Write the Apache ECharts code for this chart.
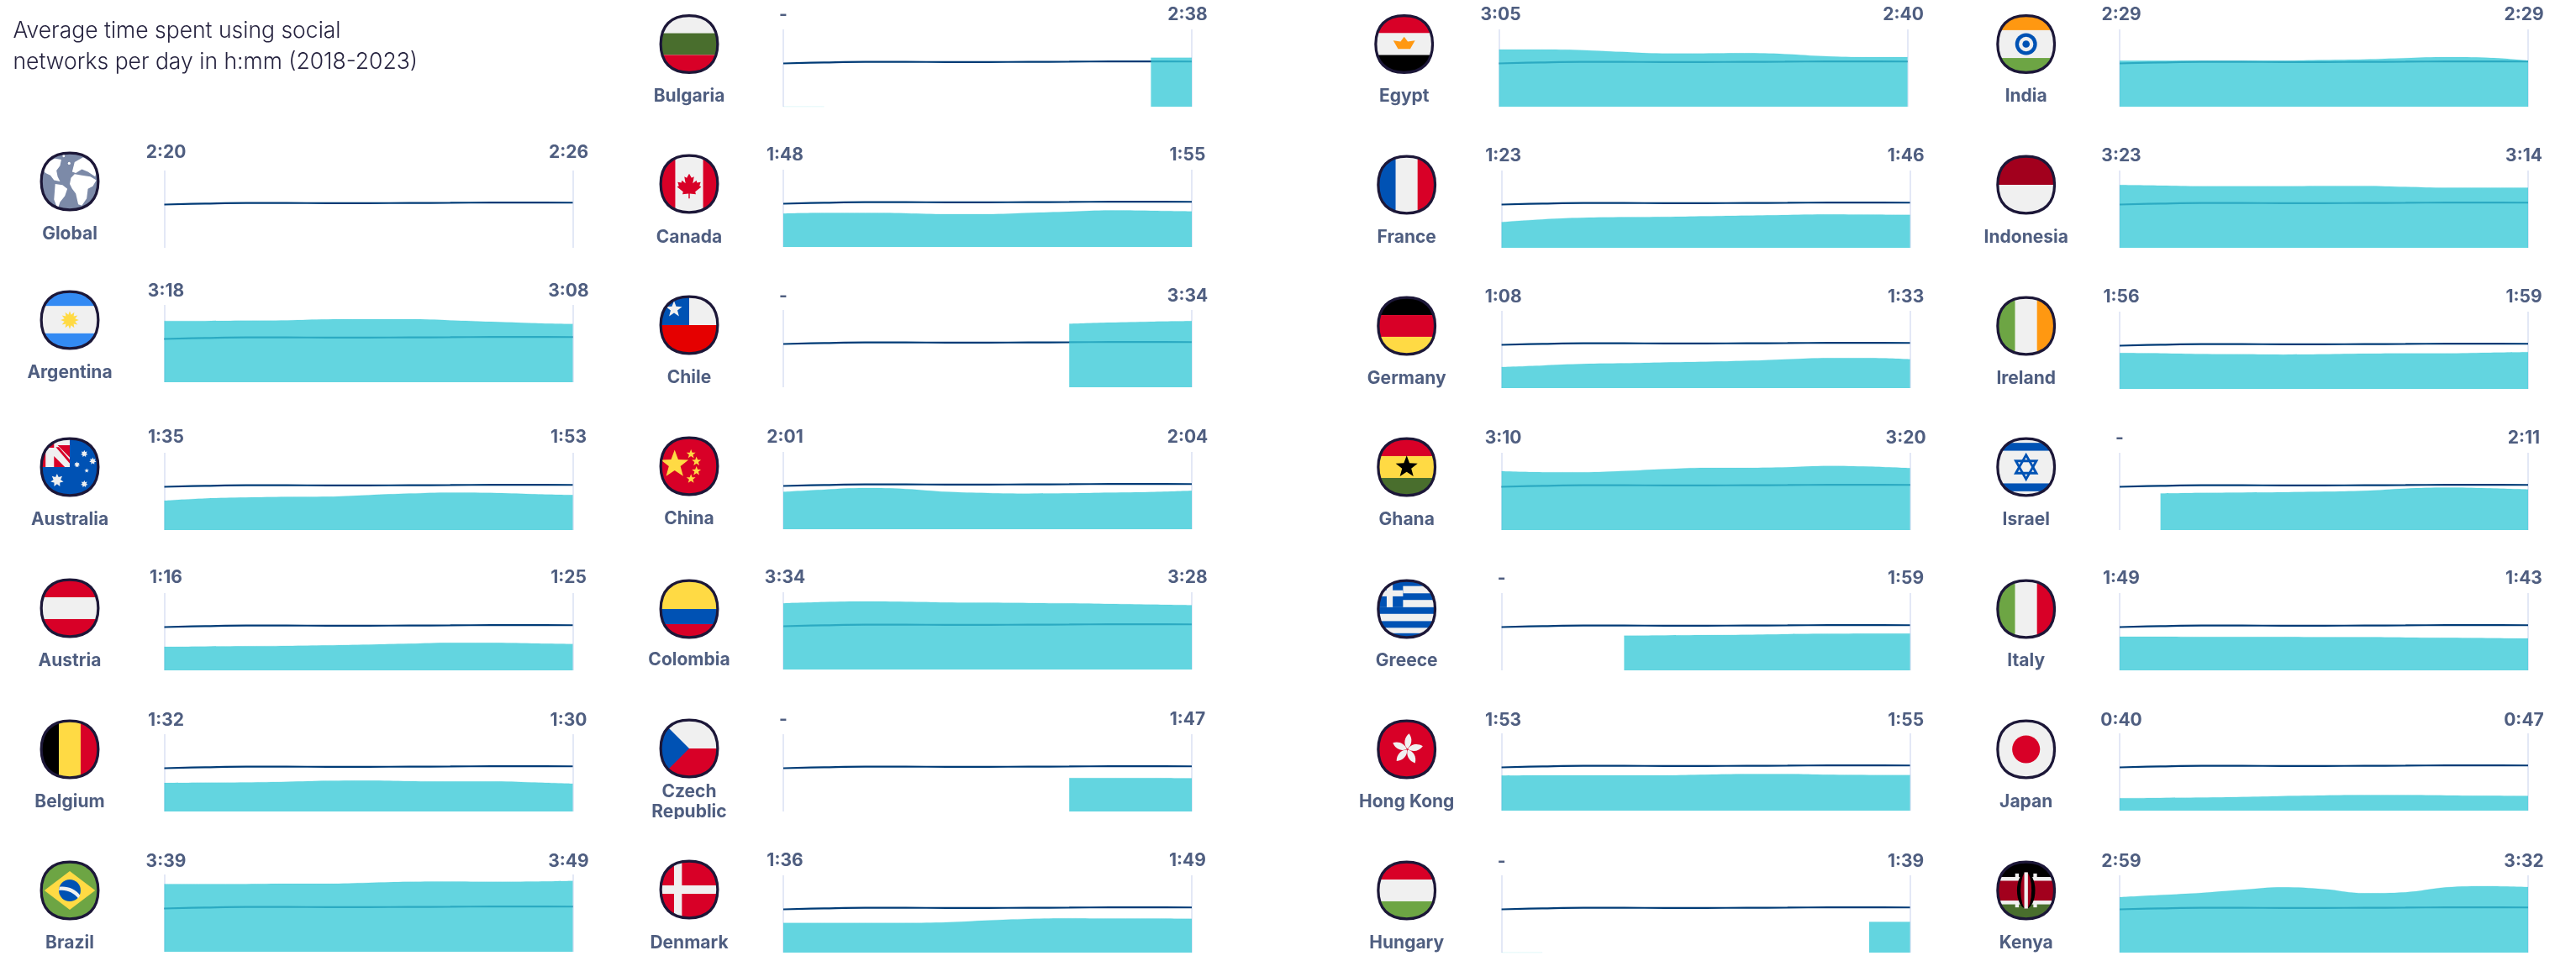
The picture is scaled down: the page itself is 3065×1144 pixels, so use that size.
<!DOCTYPE html>
<html lang="en">
    <head>
        <meta charset="UTF-8" />
        <title>Average time spent using social networks</title>
        <script src="https://cdn.jsdelivr.net/npm/echarts@6/dist/echarts.min.js"></script>
    </head>
    <style>
        html, body { margin: 0; background: #fff; }
        #chart { width: 3065px; height: 1144px; }
    </style>
    <body>
        <div id="chart"></div>
    </body>
    <script>
        // half-year steps, values in minutes per day
        const periods = ["2018", "2018.5", "2019", "2019.5", "2020", "2020.5", "2021", "2021.5", "2022", "2022.5", "2023"];

        const names = [
            ["Global", "Argentina", "Australia", "Austria", "Belgium", "Brazil"],
            ["Bulgaria", "Canada", "Chile", "China", "Colombia", "Czech\nRepublic", "Denmark"],
            ["Egypt", "France", "Germany", "Ghana", "Greece", "Hong Kong", "Hungary"],
            ["India", "Indonesia", "Ireland", "Israel", "Italy", "Japan", "Kenya"],
        ];
        const startLabels = [
            ["2:20", "3:18", "1:35", "1:16", "1:32", "3:39"],
            ["-", "1:48", "-", "2:01", "3:34", "-", "1:36"],
            ["3:05", "1:23", "1:08", "3:10", "-", "1:53", "-"],
            ["2:29", "3:23", "1:56", "-", "1:49", "0:40", "2:59"],
        ];
        const endLabels = [
            ["2:26", "3:08", "1:53", "1:25", "1:30", "3:49"],
            ["2:38", "1:55", "3:34", "2:04", "3:28", "1:47", "1:49"],
            ["2:40", "1:46", "1:33", "3:20", "1:59", "1:55", "1:39"],
            ["2:29", "3:14", "1:59", "2:11", "1:43", "0:47", "3:32"],
        ];

        const globalLine = [140, 143, 145, 145, 144.5, 144.5, 145, 145.5, 146.5, 146.5, 146];
        const argentina = [198, 198, 199, 200, 203, 203.5, 203.5, 200, 195.5, 191, 188];
        const australia = [95, 102, 105, 107, 108, 113, 118, 121, 120, 116, 113];
        const austria = [76, 77, 78, 79, 81, 83, 86, 89, 89, 87, 85];
        const belgium = [92, 93, 94, 96, 99, 100, 98, 97, 97, 94, 90];
        const brazil = [219, 219, 219, 220, 220, 223, 226, 227, 226, 227, 229];
        const bulgaria = [0, 0, null, null, null, null, null, null, null, 158, 158];
        const canada = [108, 110, 110, 109, 106, 106, 110, 114, 118, 117, 115];
        const chile = [null, null, null, null, null, null, null, 205, 209, 212, 214];
        const china = [121, 128, 133, 130, 121, 117, 115, 116, 118, 120, 124];
        const colombia = [214, 218, 220, 219, 217, 216, 215, 214, 212, 210, 208];
        const czechRepublic = [null, null, null, null, null, null, null, 108, 108, 108, 107];
        const denmark = [96, 96, 96, 96, 98, 104, 109, 111, 110, 110, 109];
        const egypt = [185, 185, 183, 177, 172, 172, 173, 170, 163, 160, 160];
        const france = [83, 92, 97, 99, 100, 102, 104, 106, 108, 107, 106];
        const germany = [68, 73, 78, 80, 83, 85, 88, 93, 97, 97, 93];
        const ghana = [190, 187, 187, 191, 197, 201, 201, 203, 207, 205, 200];
        const greece = [null, null, null, 112, 113, 114, 115, 117, 118, 119, 119];
        const hongKong = [113, 114, 114, 114, 114, 116, 118, 118, 116, 115, 115];
        const hungary = [0, 0, null, null, null, null, null, null, null, 99, 99];
        const india = [149, 149, 149, 149, 149, 151, 153, 157, 160, 158, 149];
        const indonesia = [203, 201, 199, 199, 199, 200, 200, 197, 194, 194, 194];
        const ireland = [116, 115, 113, 112, 111, 112, 114, 115, 115, 117, 119];
        const israel = [null, 118, 120, 121, 122, 124, 127, 134, 137, 135, 131];
        const italy = [109, 109, 108, 108, 108, 107, 107, 106, 105, 104, 103];
        const japan = [40, 41, 42, 44, 47, 49, 50, 50, 49, 48, 47];
        const kenya = [179, 186, 193, 203, 211, 205, 192, 195, 211, 215, 212];

        const areaValues = [
            [null, argentina, australia, austria, belgium, brazil],
            [bulgaria, canada, chile, china, colombia, czechRepublic, denmark],
            [egypt, france, germany, ghana, greece, hongKong, hungary],
            [india, indonesia, ireland, israel, italy, japan, kenya],
        ];

        // layout
        const colX = [195.5, 932, 1786.6, 2522];
        const flagX = [83, 820, 1673.7, 2410.7];
        const panelW = 486;
        const panelH = 92;
        const panelTop = [
            [203, 363, 539, 706, 874, 1041],
            [35, 202, 369, 538, 705, 874, 1042],
            [35, 203, 370, 539, 706, 873, 1042],
            [35, 203, 371, 539, 706, 873, 1042],
        ];
        const flagY = [
            [216, 381, 556, 724, 892, 1060],
            [52.5, 219, 387, 555, 725, 891, 1059],
            [52.5, 220, 388, 556, 725, 892, 1060],
            [52.5, 220, 388, 556, 725, 892, 1060],
        ];
        const nameY = [
            [279, 444, 619, 787, 955, 1123],
            [115, 283, 450, 618, 786, 955, 1123],
            [115, 283, 451, 619, 787, 955, 1123],
            [115, 283, 451, 619, 787, 955, 1123],
        ];
        const valueY = [
            [182, 347, 521, 688, 858, 1026],
            [18, 185, 353, 521, 688, 857, 1025],
            [18, 186, 354, 522, 689, 858, 1026],
            [18, 186, 354, 522, 689, 858, 1026],
        ];
        const FONT = "Inter, 'Noto Sans', sans-serif";
        const TEXT = "#4f5e80";

        // flag drawing
        const RED = "#d80027", WHITE = "#f0f0f0", BLUE = "#0052b4", YEL = "#ffda44",
            GRN = "#6da544", DGRN = "#496e2d", ORG = "#ff9811", BLK = "#000", DRED = "#a2001d";
        const rect = (x, y, w, h, c) => `<rect x="${x}" y="${y}" width="${w}" height="${h}" fill="${c}"/>`;
        const circ = (x, y, r, c) => `<circle cx="${x}" cy="${y}" r="${r}" fill="${c}"/>`;
        const hb = (a, b, c, y1 = 32, y2 = 68) => rect(0, 0, 100, y1, a) + rect(0, y1, 100, y2 - y1, b) + rect(0, y2, 100, 100 - y2, c);
        const vb = (a, b, c) => rect(0, 0, 32, 100, a) + rect(32, 0, 36, 100, b) + rect(68, 0, 32, 100, c);
        function star(cx, cy, r, c, n = 5, inner = 0.42) {
            let pts = [];
            for (let i = 0; i < n * 2; i++) {
                const a = -Math.PI / 2 + (i * Math.PI) / n;
                const rr = i % 2 ? r * inner : r;
                pts.push((cx + rr * Math.cos(a)).toFixed(1) + "," + (cy + rr * Math.sin(a)).toFixed(1));
            }
            return `<polygon points="${pts.join(" ")}" fill="${c}"/>`;
        }
        const petal = (deg) => `<path transform="rotate(${deg} 51 50)" d="M51 49C44 42 46 30 54 24C60 32 59 43 51 49Z" fill="${WHITE}"/>`;
        const flags = {
            Global: rect(0, 0, 100, 100, "#7c8aa8") +
                `<path d="M4 30L14 16L26 12L36 14L34 24L28 32L30 42L34 50L24 48L18 40L10 36Z M26 54L38 56L46 62L42 74L34 84L30 96L24 80Z M52 44L58 38L70 40L84 42L94 48L88 58L80 62L78 78L70 90L64 88L60 70L54 62L50 54Z M54 34L58 18L72 10L88 18L96 30L92 42L80 34L70 30L60 36Z" fill="#fff"/>` +
                circ(49, 20, 2.2, "#fff") + circ(40, 8, 2, "#fff"),
            Argentina: hb("#338af3", WHITE, "#338af3", 27, 72) + star(50, 50, 15, YEL, 12, 0.6),
            Australia: rect(0, 0, 100, 100, BLUE) + rect(4, 4, 46, 46, RED) +
                `<polygon points="24,4 50,4 50,14 30,14 50,34 50,50 42,50 24,32 24,50 10,50 10,18 24,18" fill="${WHITE}"/>` +
                `<polygon points="27,17 32,17 50,38 50,44" fill="${RED}"/>` +
                star(29, 72, 11, WHITE, 7, 0.55) + star(74, 28, 6, WHITE, 7, 0.55) + star(88, 40, 6, WHITE, 7, 0.55) +
                star(62, 46, 5, WHITE, 7, 0.55) + star(78, 56, 4, WHITE, 5) + star(74, 78, 6, WHITE, 7, 0.55),
            Austria: hb(RED, WHITE, RED),
            Belgium: vb(BLK, YEL, RED),
            Brazil: rect(0, 0, 100, 100, GRN) + `<polygon points="50,18 92,50 50,82 8,50" fill="${YEL}"/>` + circ(50, 50, 18, BLUE) +
                `<path d="M33 44C46 42 60 48 67 58L64 63C56 53 44 48 32 50Z" fill="${WHITE}"/>`,
            Bulgaria: hb(WHITE, DGRN, RED),
            Canada: rect(0, 0, 100, 100, RED) + rect(27, 0, 46, 100, WHITE) +
                `<path d="M50 33l4 7 4-2-2 11 6-5 1 4 6-1-2 6 3 2-10 8 1 4-10-1v8h-2v-8l-10 1 1-4-10-8 3-2-2-6 6 1 1-4 6 5-2-11 4 2z" fill="${RED}"/>`,
            Chile: rect(0, 0, 100, 50, WHITE) + rect(0, 0, 50, 50, BLUE) + rect(0, 50, 100, 50, "#e50000") + star(25, 24, 14, WHITE),
            China: rect(0, 0, 100, 100, RED) + star(26, 47, 24, YEL) + star(53, 30, 8, YEL) + star(62, 42, 8, YEL) +
                star(62, 58, 8, YEL) + star(53, 71, 8, YEL),
            Colombia: rect(0, 0, 100, 50, YEL) + rect(0, 50, 100, 25, BLUE) + rect(0, 75, 100, 25, RED),
            Czech: rect(0, 0, 100, 50, WHITE) + rect(0, 50, 100, 50, RED) + `<polygon points="0,0 50,50 0,100" fill="${BLUE}"/>`,
            Denmark: rect(0, 0, 100, 100, RED) + rect(25, 0, 13, 100, WHITE) + rect(0, 43, 100, 14, WHITE),
            Egypt: hb(RED, WHITE, BLK) + `<polygon points="32,44 44,46 50,38 56,46 68,44 60,58 40,58" fill="${ORG}"/>`,
            France: vb(BLUE, WHITE, RED),
            Germany: hb(BLK, RED, YEL),
            Ghana: hb(RED, YEL, DGRN) + star(50, 50, 19, BLK),
            Greece: rect(0, 0, 100, 100, WHITE) + rect(0, 0, 100, 12, BLUE) + rect(0, 24, 100, 11, BLUE) + rect(0, 47, 100, 11, BLUE) +
                rect(0, 70, 100, 11, BLUE) + rect(0, 90, 100, 10, BLUE) + rect(0, 0, 44, 47, BLUE) + rect(17, 0, 10, 47, WHITE) + rect(0, 19, 44, 10, WHITE),
            Hong: rect(0, 0, 100, 100, RED) + [0, 72, 144, 216, 288].map(petal).join(""),
            Hungary: hb(RED, WHITE, GRN),
            India: hb(ORG, WHITE, GRN, 27, 73) + circ(50, 50, 18, BLUE) + circ(50, 50, 12, WHITE) + circ(50, 50, 6, BLUE),
            Indonesia: rect(0, 0, 100, 50, DRED) + rect(0, 50, 100, 50, WHITE),
            Ireland: vb(GRN, WHITE, ORG),
            Israel: rect(0, 0, 100, 100, WHITE) + rect(0, 10, 100, 13, BLUE) + rect(0, 77, 100, 13, BLUE) +
                `<g fill="none" stroke="${BLUE}" stroke-width="4"><polygon points="50,30 67,60 33,60"/><polygon points="50,70 67,40 33,40"/></g>`,
            Italy: vb(GRN, WHITE, RED),
            Japan: rect(0, 0, 100, 100, WHITE) + circ(50, 50, 23, RED),
            Kenya: rect(0, 0, 100, 28, BLK) + rect(0, 28, 100, 6, WHITE) + rect(0, 34, 100, 33, DRED) + rect(0, 67, 100, 6, WHITE) +
                rect(0, 73, 100, 27, DGRN) + `<ellipse cx="50" cy="50" rx="15" ry="30" fill="${BLK}"/><ellipse cx="50" cy="50" rx="9" ry="30" fill="${DRED}"/>` +
                rect(47, 20, 6, 60, WHITE) + rect(32, 22, 6, 10, WHITE) + rect(62, 22, 6, 10, WHITE) + rect(32, 68, 6, 10, WHITE) + rect(62, 68, 6, 10, WHITE),
        };
        const SHAPE = "M50 3C80 3 97 20 97 50C97 80 80 97 50 97C20 97 3 80 3 50C3 20 20 3 50 3Z";
        function flagImage(key) {
            const svg = `<svg xmlns="http://www.w3.org/2000/svg" width="140" height="140" viewBox="0 0 100 100"><clipPath id="c"><path d="${SHAPE}"/></clipPath><g clip-path="url(#c)">${flags[key]}</g><path d="${SHAPE}" fill="none" stroke="#1c1738" stroke-width="4.5"/></svg>`;
            return "data:image/svg+xml;charset=utf-8," + encodeURIComponent(svg);
        }

        const label = (text, x, y, opts) => ({
            type: "text",
            silent: true,
            style: Object.assign({ text, x, y, fill: TEXT, fontFamily: FONT, fontSize: 21, fontWeight: 700, align: "center", verticalAlign: "middle" }, opts),
        });

        const grid = [], xAxis = [], yAxis = [], series = [];
        const graphic = [
            label("Average time spent using social", 15.5, 37, { fill: "#26233f", fontSize: 26.5, fontWeight: 300, align: "left" }),
            label("networks per day in h:mm (2018-2023)", 15.5, 74, { fill: "#26233f", fontSize: 26.5, fontWeight: 300, align: "left" }),
        ];

        names.forEach((col, c) => {
            col.forEach((name, r) => {
                const idx = grid.length;
                // Egypt sits a little left of the rest of its column
                const dx = name === "Egypt" ? -3 : 0;
                const left = colX[c] + dx;
                grid.push({ left, top: panelTop[c][r], width: panelW, height: panelH });
                xAxis.push({
                    type: "category",
                    gridIndex: idx,
                    data: periods,
                    boundaryGap: false,
                    axisLine: { show: false },
                    axisTick: { show: false },
                    axisLabel: { show: false },
                    splitLine: {
                        show: true,
                        interval: (i) => i === 0 || i === periods.length - 1,
                        lineStyle: { color: "#e3e8f6", width: 2 },
                    },
                });
                yAxis.push({ type: "value", gridIndex: idx, min: 0, max: 250, show: false });
                series.push({
                    type: "line",
                    xAxisIndex: idx,
                    yAxisIndex: idx,
                    data: globalLine,
                    smooth: 0.4,
                    showSymbol: false,
                    z: 2,
                    lineStyle: { color: "#003b76", width: 2.2 },
                });
                if (areaValues[c][r]) {
                    series.push({
                        type: "line",
                        xAxisIndex: idx,
                        yAxisIndex: idx,
                        data: areaValues[c][r],
                        smooth: 0.4,
                        showSymbol: false,
                        z: 3,
                        lineStyle: { color: "rgba(55,201,215,0.2)", width: 1 },
                        areaStyle: { color: "rgba(55,201,215,0.78)", opacity: 1 },
                    });
                }
                const key = name.split(/[\s\n]/)[0];
                graphic.push({
                    type: "image",
                    silent: true,
                    style: { image: flagImage(key), x: flagX[c] + dx - 36, y: flagY[c][r] - 36, width: 72, height: 72 },
                });
                graphic.push(label(name, flagX[c] + dx, nameY[c][r], key === "Czech" ? { lineHeight: 24 } : {}));
                graphic.push(label(startLabels[c][r], left + (startLabels[c][r] === "-" ? 0 : 2), valueY[c][r]));
                graphic.push(label(endLabels[c][r], left + panelW - 5, valueY[c][r]));
            });
        });
        // the Czech Republic label is cut off under its second line
        graphic.push({ type: "rect", silent: true, shape: { x: 760, y: 975, width: 120, height: 8 }, style: { fill: "#fff" } });

        const myChart = echarts.init(document.getElementById("chart"));
        myChart.setOption({
            animation: false,
            tooltip: { show: false },
            grid,
            xAxis,
            yAxis,
            series,
            graphic,
        });
    </script>
</html>
